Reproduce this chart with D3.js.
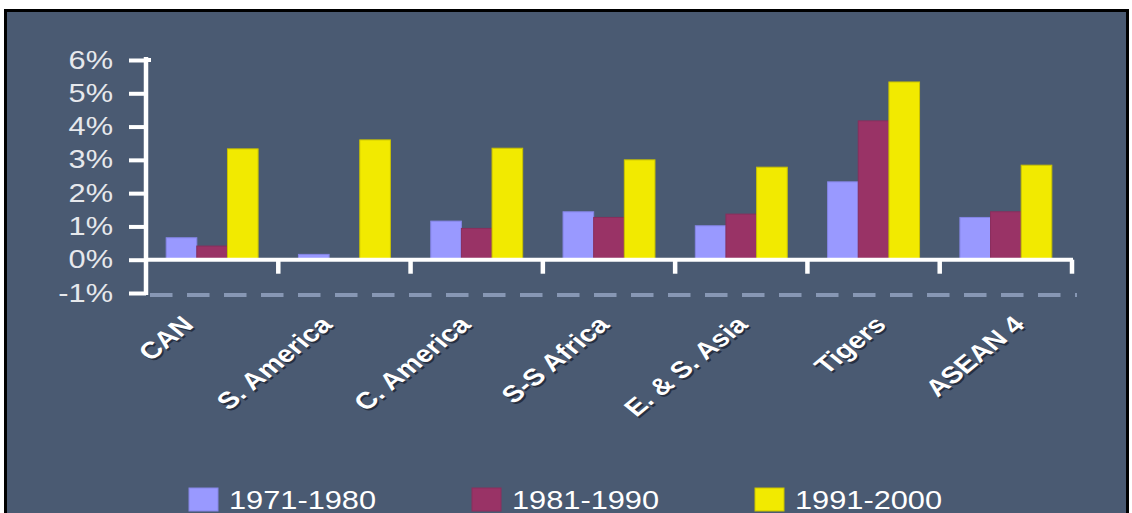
<!DOCTYPE html>
<html>
<head>
<meta charset="utf-8">
<script src="https://cdn.jsdelivr.net/npm/d3@7"></script>
<style>
  html, body { margin: 0; padding: 0; background: #ffffff; }
  svg { display: block; }
</style>
</head>
<body>
<svg id="chart" width="1132" height="513"></svg>
<script>
// Average annual growth by region and decade (percent)
const categories = ["CAN", "S. America", "C. America", "S-S Africa", "E. & S. Asia", "Tigers", "ASEAN 4"];
const seriesNames = ["1971-1980", "1981-1990", "1991-2000"];
const values1971 = [0.66, 0.16, 1.16, 1.44, 1.02, 2.34, 1.27];
const values1981 = [0.41, 0.00, 0.94, 1.27, 1.37, 4.17, 1.44];
const values1991 = [3.33, 3.60, 3.35, 3.00, 2.78, 5.34, 2.84];
const yTicks = [-1, 0, 1, 2, 3, 4, 5, 6];

const seriesValues = [values1971, values1981, values1991];
const colors = ["#9999ff", "#993366", "#f2ea00"];
const strokes = ["#8585e6", "#8a2e5c", "#c9c200"];

const W = 1132, H = 513;
const SX = 1.23; // horizontal text stretch
const svg = d3.select("#chart");

// frame and panel
svg.append("rect").attr("x", 7).attr("y", 12).attr("width", 1119).attr("height", H)
  .attr("fill", "#4a5a72");
svg.append("path")
  .attr("d", `M5.5,${H + 5} V10.5 H1127.5 V${H + 5}`)
  .attr("fill", "none").attr("stroke", "#000").attr("stroke-width", 3);

const plotLeft = 146, plotRight = 1072;
const y = d3.scaleLinear().domain([-1, 6]).range([293, 60]);
const x0 = d3.scaleBand().domain(categories).range([plotLeft, plotRight])
  .paddingInner(0.305).paddingOuter(0.1525);
const x1 = d3.scaleBand().domain(seriesNames).range([0, x0.bandwidth()]).padding(0);
// anchor points (text end) for the slanted category labels
const xLabel = d3.scalePoint().domain(categories).range([195, 1026]);

const g = svg.append("g");

// -1% reference dashed line
g.append("line")
  .attr("x1", plotLeft + 4).attr("x2", plotRight + 5)
  .attr("y1", y(-1) + 2).attr("y2", y(-1) + 2)
  .attr("stroke", "#8797b4").attr("stroke-width", 4)
  .attr("stroke-dasharray", "22.5,14.5");

// bars
const table = categories.map((c, i) => ({
  cat: c,
  vals: seriesNames.map((s, k) => ({ s, k, v: seriesValues[k][i] }))
}));
const groups = g.selectAll("g.cat").data(table).join("g")
  .attr("class", "cat")
  .attr("transform", d => `translate(${x0(d.cat)},0)`);
groups.selectAll("rect").data(d => d.vals.filter(e => e.v > 0)).join("rect")
  .attr("x", e => x1(e.s))
  .attr("width", x1.bandwidth())
  .attr("y", e => y(e.v))
  .attr("height", e => y(0) - y(e.v))
  .attr("fill", e => colors[e.k])
  .attr("stroke", e => strokes[e.k])
  .attr("stroke-width", 1);

// y axis
const yAxis = d3.axisLeft(y).tickValues(yTicks).tickSize(17).tickPadding(0)
  .tickFormat(d => d + "%");
const yg = g.append("g").attr("transform", `translate(${plotLeft},0)`).call(yAxis);
yg.select(".domain").remove();
yg.selectAll(".tick line").attr("stroke", "#ffffff").attr("stroke-width", 4);
yg.selectAll(".tick text")
  .attr("x", null).attr("dy", null)
  .attr("transform", `translate(-33,8) scale(${SX},1)`)
  .attr("text-anchor", "end")
  .attr("fill", "#e6e8ec")
  .style("font-family", "'Liberation Sans', Arial, sans-serif")
  .style("font-size", "25px");
g.append("line")
  .attr("x1", plotLeft).attr("x2", plotLeft)
  .attr("y1", y(6) - 3).attr("y2", y(-1) + 2)
  .attr("stroke", "#ffffff").attr("stroke-width", 4.5);
g.append("line")
  .attr("x1", plotLeft - 2).attr("x2", plotLeft + 5)
  .attr("y1", y(6)).attr("y2", y(6))
  .attr("stroke", "#ffffff").attr("stroke-width", 4);

// x axis with ticks at category boundaries
const bounds = d3.range(categories.length + 1).map(i => x0.range()[0] + i * x0.step());
g.append("line")
  .attr("x1", plotLeft).attr("x2", plotRight + 1)
  .attr("y1", y(0)).attr("y2", y(0))
  .attr("stroke", "#ffffff").attr("stroke-width", 4);
g.selectAll("line.xtick").data(bounds.slice(1)).join("line")
  .attr("class", "xtick")
  .attr("x1", d => d).attr("x2", d => d)
  .attr("y1", y(0)).attr("y2", y(0) + 14)
  .attr("stroke", "#ffffff").attr("stroke-width", 4.5);

// category labels, rotated, with a soft dark shadow
const labelY = 326;
const labels = g.selectAll("g.lbl").data(categories).join("g").attr("class", "lbl");
[{ dx: 1.8, dy: 1.8, fill: "#1b2130", op: 0.75 }, { dx: 0, dy: 0, fill: "#ffffff", op: 1 }].forEach(p => {
  labels.append("text")
    .attr("transform", d =>
      `translate(${xLabel(d) + p.dx},${labelY + p.dy}) scale(${SX},1) rotate(-45)`)
    .attr("text-anchor", "end")
    .attr("fill", p.fill).attr("opacity", p.op)
    .style("font-family", "'Liberation Sans', Arial, sans-serif")
    .style("font-weight", "bold")
    .style("font-size", "23.5px")
    .text(d => d);
});

// legend
const legend = g.selectAll("g.leg").data(seriesNames).join("g")
  .attr("class", "leg")
  .attr("transform", (d, i) => `translate(${189 + i * 283},488)`);
legend.append("rect")
  .attr("width", 29).attr("height", 23)
  .attr("fill", (d, i) => colors[i])
  .attr("stroke", (d, i) => strokes[i]).attr("stroke-width", 1);
legend.append("text")
  .attr("transform", `translate(40,21) scale(${SX},1)`)
  .attr("fill", "#ffffff")
  .style("font-family", "'Liberation Sans', Arial, sans-serif")
  .style("font-size", "25px")
  .text(d => d);
</script>
</body>
</html>
